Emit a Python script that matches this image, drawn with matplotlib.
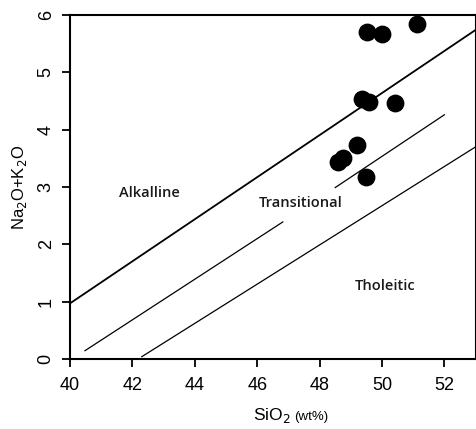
import matplotlib.pyplot as plt

# sample analyses (SiO2 vs total alkalis, wt%)
sio2 = [49.53, 50.01, 51.13, 49.37, 49.59, 50.42, 49.19, 48.76, 48.60, 49.49]
alkali = [5.71, 5.66, 5.85, 4.54, 4.49, 4.47, 3.73, 3.51, 3.43, 3.17]

# field boundaries as (x, y) end points
alkaline_line = ([40.0, 53.0], [0.97, 5.74])
transitional_low = ([40.48, 46.82], [0.145, 2.39])
transitional_high = ([48.5, 52.0], [2.99, 4.26])
tholeiitic_line = ([42.3, 53.0], [0.04, 3.70])

xticks = [40, 42, 44, 46, 48, 50, 52]
yticks = [0, 1, 2, 3, 4, 5, 6]

plt.rcParams['font.family'] = ['Liberation Sans', 'DejaVu Sans']

fig = plt.figure(figsize=(4.76, 4.29), dpi=100)
ax = fig.add_axes([70 / 476, 1 - 359 / 429, 405.6 / 476, 344 / 429])

ax.plot(*alkaline_line, color='black', lw=1.3)
ax.plot(*transitional_low, color='black', lw=0.9)
ax.plot(*transitional_high, color='black', lw=0.9)
ax.plot(*tholeiitic_line, color='black', lw=0.9)

ax.scatter(sio2, alkali, s=140, color='black', zorder=3)

ax.set_xlim(40, 53)
ax.set_ylim(0, 6)
ax.set_xticks(xticks)
ax.set_yticks(yticks)
ax.tick_params(direction='out', length=6, width=1.3, labelsize=13)
ax.tick_params(axis='x', pad=7)
ax.tick_params(axis='y', pad=5)
for lab in ax.get_yticklabels():
    lab.set_rotation(90)
    lab.set_va('center')
for sp in ax.spines.values():
    sp.set_linewidth(1.5)

fld = dict(fontsize=10.5, family='Open Sans', weight='semibold', color='#1a1a1a',
           ha='center', va='center')
ax.text(42.55, 2.90, 'Alkalline', **fld)
ax.text(47.40, 2.72, 'Transitional', **fld)
ax.text(50.10, 1.27, 'Tholeitic', **fld)

ax.set_ylabel('Na$_2$O+K$_2$O', fontsize=12, labelpad=6)
fig.text(0.610, 0.020, 'SiO$_2$', fontsize=12.5, ha='right', va='baseline')
fig.text(0.617, 0.020, '(wt%)', fontsize=9.5, ha='left', va='baseline')

fig.savefig('out.png', dpi=100)
